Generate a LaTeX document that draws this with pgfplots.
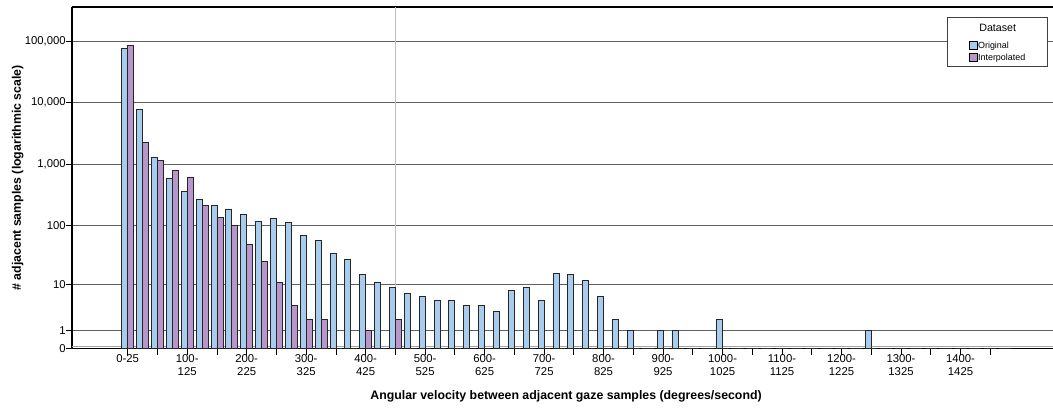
\documentclass[border=0pt]{standalone}
\usepackage{fontspec}
\setmainfont{Liberation Sans}
\usepackage{pgfplots}
\usepackage{pgfplotstable}
\pgfplotsset{compat=1.18}

\definecolor{origblue}{RGB}{168,204,238}
\definecolor{interppurple}{RGB}{184,150,202}
\definecolor{gridgray}{RGB}{96,96,96}
\definecolor{refgray}{RGB}{190,190,190}

% counts of adjacent-sample pairs per 25 deg/s velocity bin (bin k = 25k .. 25k+25)
\pgfplotstableread{
bin orig interp
0 76700 84500
1 7690 2296
2 1309 1157
3 589 784
4 362 619
5 271 214
6 214 136
7 186 99
8 152 49
9 117 25
10 129 11
11 111 4
12 69 2
13 56 2
14 34 0
15 27 0
16 15 1
17 11 0
18 9 2
19 7 0
20 6 0
21 5 0
22 5 0
23 4 0
24 4 0
25 3 0
26 8 0
27 9 0
28 5 0
29 16 0
30 15 0
31 12 0
32 6 0
33 2 0
34 1 0
35 0 0
36 1 0
37 1 0
38 0 0
39 0 0
40 2 0
41 0 0
42 0 0
43 0 0
44 0 0
45 0 0
46 0 0
47 0 0
48 0 0
49 0 0
50 1 0
51 0 0
52 0 0
53 0 0
54 0 0
55 0 0
56 0 0
57 0 0
58 0 0
59 0 0
}\velocity

\pgfplotsset{
  sqlegend/.style={legend image code/.code={
    \draw[##1, draw=black, line width=0.5pt] (0pt,-2.9pt) rectangle (5.8pt,2.9pt);}},
}

\begin{document}
\begin{tikzpicture}
\useasboundingbox (-54pt,-44.475pt) rectangle (735.75pt,261.525pt);
\begin{axis}[
  at={(0pt,0pt)}, anchor=south west,
  scale only axis, width=735.75pt, height=256.275pt,
  xmin=-3.746, xmax=62.22, ymin=0, ymax=5.556,
  ybar=0pt, bar width=4.5pt,
  separate axis lines,
  axis x line=box, axis y line=left,
  axis line style={-, black, line width=0.8pt},
  xtick pos=left, ytick pos=left,
  tick align=outside, major tick length=4.5pt,
  tick style={black, line width=0.6pt},
  xtick={0,2,...,58},
  xticklabels={0-25,,{100-\\125},,{200-\\225},,{300-\\325},,{400-\\425},,{500-\\525},,{600-\\625},,{700-\\725},,{800-\\825},,{900-\\925},,{1000-\\1025},,{1100-\\1125},,{1200-\\1225},,{1300-\\1325},,{1400-\\1425},{}},
  ytick={0,0.30103,1.04139,2.00432,3.00043,4.00004,5.00000},
  yticklabels={0,1,10,100,{1,000},{10,000},{100,000}},
  ymajorgrids, major grid style={gridgray, line width=1pt},
  extra y ticks={0.044}, extra y tick labels={},
  extra y tick style={major tick length=0pt, grid=major, major grid style={black!35, line width=0.7pt}},
  extra x ticks={18}, extra x tick labels={},
  extra x tick style={major tick length=0pt, grid=major, major grid style={refgray, line width=0.9pt}},
  ticklabel style={font=\fontsize{8.5}{9.4}\selectfont},
  yticklabel style={inner sep=0pt, anchor=east},
  xticklabel style={align=center, inner sep=0pt, anchor=north},
  ylabel={\# adjacent samples (logarithmic scale)},
  ylabel style={at={(axis description cs:-0.0553,0.5)}, anchor=center, font=\bfseries\fontsize{9.25}{11}\selectfont},
  xlabel={Angular velocity between adjacent gaze samples (degrees/second)},
  xlabel style={at={(axis description cs:0.5036,-0.1405)}, anchor=center, font=\bfseries\fontsize{9.25}{11}\selectfont},
  legend style={at={(rel axis cs:0.914,0.9055)}, anchor=north west, draw=none, fill=none,
    font=\fontsize{6.7}{8}\selectfont, inner sep=0pt, row sep=0pt,
    nodes={inner xsep=0.6pt, inner ysep=0.75pt, text height=6pt, text depth=1.5pt}},
  legend cell align=left,
]
\addplot[fill=origblue, draw=black!85, line width=0.6pt, sqlegend]
  table[x=bin, y expr={log10(\thisrow{orig}+1)}] {\velocity};
\addlegendentry{Original}
\addplot[fill=interppurple, draw=black!85, line width=0.6pt, sqlegend]
  table[x=bin, y expr={log10(\thisrow{interp}+1)}] {\velocity};
\addlegendentry{Interpolated}
% legend frame with its title
\draw[fill=white, draw=black!75, line width=0.6pt] (rel axis cs:0.8927,0.8273) rectangle (rel axis cs:0.9939,0.9707);
\node[font=\fontsize{8}{9}\selectfont] at (rel axis cs:0.9436,0.9377) {Dataset};
\end{axis}
\end{tikzpicture}
\end{document}
